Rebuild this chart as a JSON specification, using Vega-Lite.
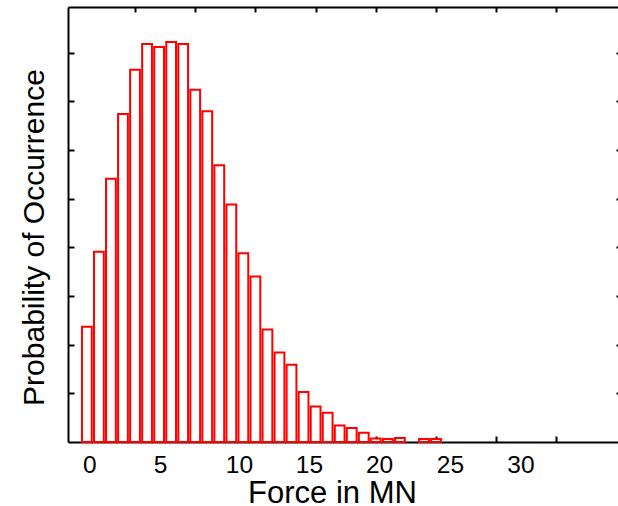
{
  "$schema": "https://vega.github.io/schema/vega-lite/v6.json",
  "width": 550,
  "height": 435,
  "autosize": {"type": "none"},
  "padding": {"left": 68, "top": 7, "right": 0, "bottom": 64},
  "background": "white",
  "config": {
    "view": {"stroke": null},
    "font": "Liberation Sans",
    "axis": {
      "grid": false,
      "domainColor": "black",
      "domainWidth": 2,
      "tickColor": "black",
      "tickWidth": 2,
      "labelColor": "black",
      "titleColor": "black",
      "zindex": 1,
      "labelFont": "Liberation Sans",
      "titleFont": "Liberation Sans",
      "titleFontWeight": "normal"
    }
  },
  "data": {
    "values": [
      {"bin": 1, "p": 0.0237},
      {"bin": 2, "p": 0.0391},
      {"bin": 3, "p": 0.0541},
      {"bin": 4, "p": 0.0674},
      {"bin": 5, "p": 0.0765},
      {"bin": 6, "p": 0.0818},
      {"bin": 7, "p": 0.0812},
      {"bin": 8, "p": 0.0822},
      {"bin": 9, "p": 0.0818},
      {"bin": 10, "p": 0.0724},
      {"bin": 11, "p": 0.068},
      {"bin": 12, "p": 0.0569},
      {"bin": 13, "p": 0.0488},
      {"bin": 14, "p": 0.0388},
      {"bin": 15, "p": 0.034},
      {"bin": 16, "p": 0.0231},
      {"bin": 17, "p": 0.0184},
      {"bin": 18, "p": 0.0159},
      {"bin": 19, "p": 0.0103},
      {"bin": 20, "p": 0.0073},
      {"bin": 21, "p": 0.006},
      {"bin": 22, "p": 0.0034},
      {"bin": 23, "p": 0.0029},
      {"bin": 24, "p": 0.0019},
      {"bin": 25, "p": 0.0007},
      {"bin": 26, "p": 0.0006},
      {"bin": 27, "p": 0.0008},
      {"bin": 29, "p": 0.0006},
      {"bin": 30, "p": 0.0006}
    ]
  },
  "layer": [
    {
      "mark": {"type": "bar", "size": 9.8, "fill": "white", "stroke": "#ff0000", "strokeWidth": 2},
      "encoding": {
        "x": {
          "field": "bin", "type": "quantitative",
          "scale": {"domain": [-0.15, 44.7], "nice": false, "zero": false},
          "axis": {"orient": "bottom", "values": [5, 10, 15, 20, 25, 30, 35, 40], "tickSize": -6, "labels": false, "title": null, "domain": true}
        },
        "y": {
          "field": "p", "type": "quantitative",
          "scale": {"domain": [0, 0.0894], "nice": false, "zero": true},
          "axis": {
            "orient": "left", "values": [0.01, 0.02, 0.03, 0.04, 0.05, 0.06, 0.07, 0.08], "tickSize": -6, "labels": false, "domain": true,
            "title": "Probability of Occurrence", "titleFontSize": 30, "titleBaseline": "alphabetic", "titleAlign": "center", "titleAngle": 270, "titleX": -25, "titleY": 230
          }
        }
      }
    },
    {
      "mark": {"type": "point", "opacity": 0},
      "encoding": {
        "x": {
          "field": "bin", "type": "quantitative",
          "scale": {"domain": [-0.15, 44.7], "nice": false, "zero": false},
          "axis": {"orient": "top", "values": [5, 10, 15, 20, 25, 30, 35, 40], "tickSize": -5, "labels": false, "title": null, "domain": true}
        },
        "y": {
          "field": "p", "type": "quantitative",
          "scale": {"domain": [0, 0.0894], "nice": false, "zero": true},
          "axis": {"orient": "right", "offset": 3, "values": [0.01, 0.02, 0.03, 0.04, 0.05, 0.06, 0.07, 0.08], "tickSize": -5, "labels": false, "title": null, "domain": true}
        }
      }
    },
    {
      "mark": {"type": "point", "opacity": 0},
      "encoding": {
        "x": {
          "field": "bin", "type": "quantitative",
          "scale": {"domain": [-0.15, 44.7], "nice": false, "zero": false},
          "axis": {
            "orient": "bottom", "values": [1.2, 7.08, 13.63, 19.45, 25.27, 31.16, 37.01],
            "labelExpr": "round((datum.value - 1.2) / 5.95) * 5",
            "ticks": false, "tickSize": 0, "domain": false,
            "labelFontSize": 24.5, "labelBaseline": "alphabetic", "labelPadding": 30.7, "labelFlush": false, "labelOverlap": false,
            "title": "Force in MN", "titleFontSize": 31, "titleBaseline": "alphabetic", "titleAlign": "center", "titleX": 264, "titleY": 60
          }
        },
        "y": {
          "field": "p", "type": "quantitative",
          "scale": {"domain": [0, 0.0894], "nice": false, "zero": true},
          "axis": null
        }
      }
    }
  ],
  "resolve": {"axis": {"x": "independent", "y": "independent"}}
}
